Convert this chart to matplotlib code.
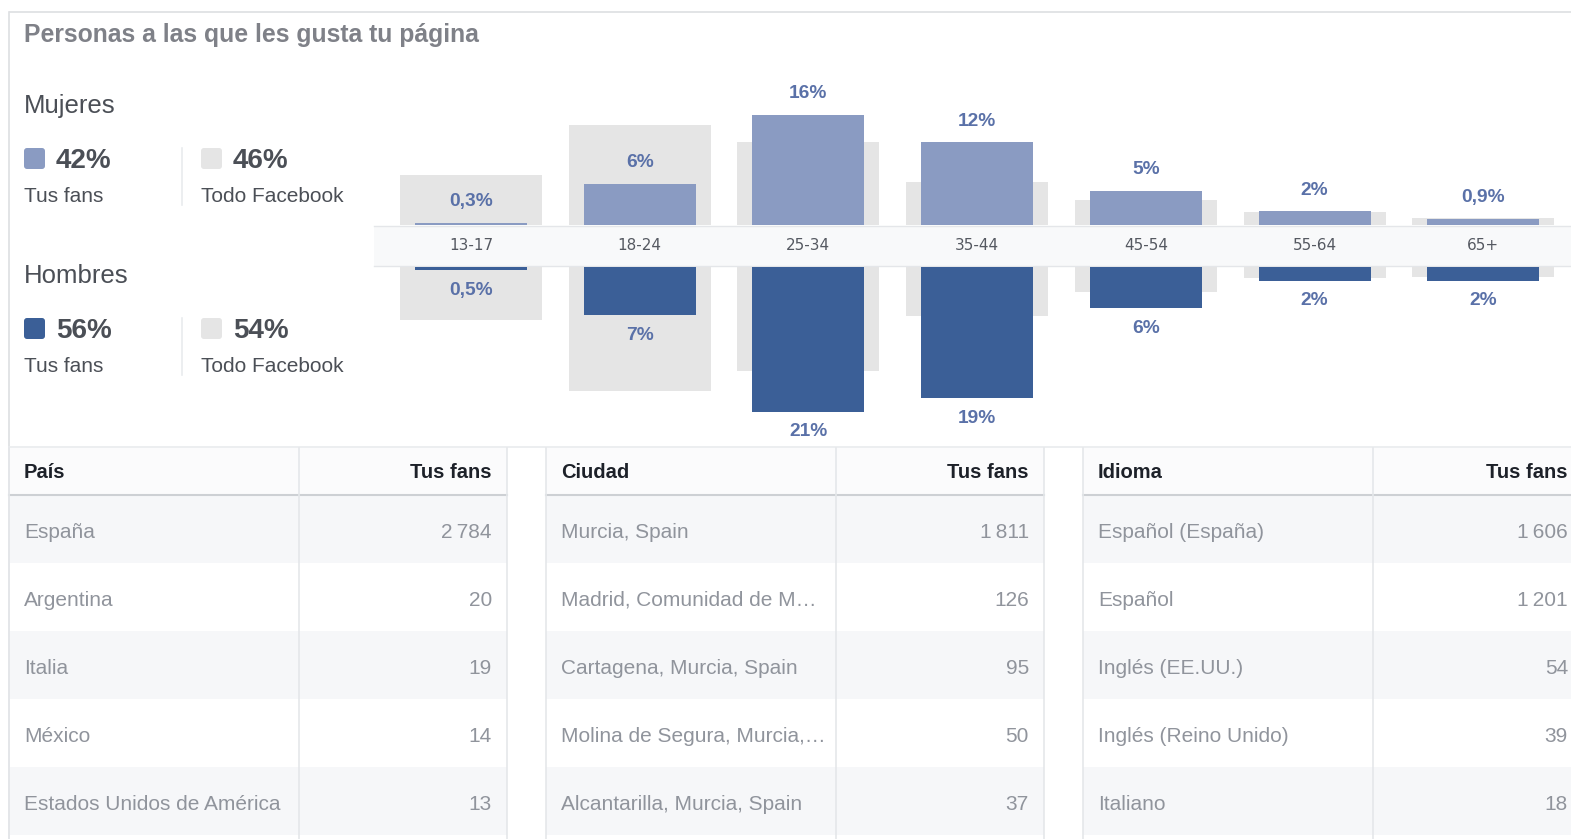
import matplotlib
matplotlib.use("Agg")
import matplotlib.pyplot as plt
from matplotlib.patches import Rectangle, FancyBboxPatch
from matplotlib import transforms

# age groups and shares (%) of page fans vs. all of Facebook
ages = ['13-17', '18-24', '25-34', '35-44', '45-54', '55-64', '65+']
women_fans = [0.3, 6, 16, 12, 5, 2, 0.9]
men_fans = [0.5, 7, 21, 19, 6, 2, 2]
women_fb = [7.2, 14.5, 12, 6.2, 3.6, 1.9, 1.0]
men_fb = [7.7, 18, 15, 7.1, 3.6, 1.6, 1.4]

# totals for the summary block
women_total = [42, 46]
men_total = [56, 54]

# top-5 tables
countries = ['España', 'Argentina', 'Italia', 'México', 'Estados Unidos de América']
country_fans = [2784, 20, 19, 14, 13]
cities = ['Murcia, Spain', 'Madrid, Comunidad de M…', 'Cartagena, Murcia, Spain',
          'Molina de Segura, Murcia,…', 'Alcantarilla, Murcia, Spain']
city_fans = [1811, 126, 95, 50, 37]
languages = ['Español (España)', 'Español', 'Inglés (EE.UU.)', 'Inglés (Reino Unido)', 'Italiano']
lang_fans = [1606, 1201, 54, 39, 18]

W, H = 1571, 839
C_WOMEN = '#8a9bc2'
C_MEN = '#3b5f97'
C_FB = '#e5e5e5'
C_LBL = '#5a71a8'
C_DARK = '#4b4f56'
C_HEAD = '#1d2129'
C_ROW = '#90949c'
C_LINE = '#dddfe2'
SANS = ['Liberation Sans', 'DejaVu Sans']

plt.rcParams['font.family'] = SANS

fig = plt.figure(figsize=(W / 100, H / 100), dpi=100)
fig.patch.set_facecolor('white')

# background axes in pixel units (y grows downwards)
bg = fig.add_axes([0, 0, 1, 1])
bg.set_xlim(0, W)
bg.set_ylim(H, 0)
bg.axis('off')


def px_axes(x0, y0, x1, y1):
    return fig.add_axes([x0 / W, 1 - y1 / H, (x1 - x0) / W, (y1 - y0) / H])


def pct(v):
    return f'{v:g}'.replace('.', ',') + '%'


def num(n):
    return f'{n:,}'.replace(',', '\u2009')


# panel frame
bg.plot([10, W], [12, 12], color=C_LINE, lw=1.2)
bg.plot([9, 9], [12, H], color=C_LINE, lw=1.2)

bg.text(24, 35, 'Personas a las que les gusta tu página', fontsize=17.8,
        fontweight='bold', color='#7f8188', va='center')

# summary blocks
for y0, name, totals, col in [(104, 'Mujeres', women_total, C_WOMEN),
                              (274, 'Hombres', men_total, C_MEN)]:
    bg.text(24, y0 + 2, name, fontsize=18.5, color=C_DARK, va='center')
    for x0, v, c, sub in [(24, totals[0], col, 'Tus fans'),
                          (201, totals[1], C_FB, 'Todo Facebook')]:
        bg.add_patch(FancyBboxPatch((x0, y0 + 44), 21, 21,
                                    boxstyle='round,pad=0,rounding_size=3',
                                    fc=c, ec='none'))
        bg.text(x0 + 32, y0 + 57, f'{v}%', fontsize=20, fontweight='bold',
                color=C_DARK, va='center')
        bg.text(x0, y0 + 92, sub, fontsize=15, color=C_DARK, va='center')
    bg.plot([182, 182], [y0 + 44, y0 + 101], color='#e9ebee', lw=1.2)

# age band
bg.add_patch(Rectangle((374, 226), W - 374, 40, fc='#f8f9fa', ec='none', zorder=3))
bg.plot([374, W], [226, 226], color='#e4e6e9', lw=1, zorder=3)
bg.plot([374, W], [266, 266], color='#e4e6e9', lw=1, zorder=3)

PX_PER_PCT = 6.9
x = list(range(len(ages)))
xlim = (-0.575, 6.52)

ax_w = px_axes(374, 60, W, 225)
ax_w.set_ylim(0, 165 / PX_PER_PCT)
ax_m = px_axes(374, 267, W, 446)
ax_m.set_ylim(179 / PX_PER_PCT, 0)

for ax, fans, fb, col, dy in [(ax_w, women_fans, women_fb, C_WOMEN, 21),
                              (ax_m, men_fans, men_fb, C_MEN, -20)]:
    ax.set_xlim(*xlim)
    ax.patch.set_alpha(0)
    ax.axis('off')
    ax.bar(x, fb, width=0.842, color=C_FB, zorder=1)
    ax.bar(x, fans, width=0.664, color=col, zorder=2)
    for i, v in zip(x, fans):
        ax.annotate(pct(v), (i, v), xytext=(0, dy), textcoords='offset pixels',
                    ha='center', va='center', fontsize=13.8, fontweight='bold',
                    color=C_LBL)

band_tr = transforms.blended_transform_factory(ax_w.transData, bg.transData)
for i, a in zip(x, ages):
    bg.text(i, 246, a, transform=band_tr, ha='center', va='center',
            fontsize=11, family='DejaVu Sans', color='#555961', zorder=4)

# tables
ROW_Y = [495, 563, 631, 699, 767, 835]
bg.plot([9, W], [447, 447], color='#e9ebee', lw=1.2)
tables = [(9, 299, 507, 'País', countries, country_fans),
          (546, 836, 1044, 'Ciudad', cities, city_fans),
          (1083, 1373, 1590, 'Idioma', languages, lang_fans)]
for x0, xm, x1, head, names, vals in tables:
    right = x1 - 15 if x1 < W else 1568
    bg.add_patch(Rectangle((x0, 448), x1 - x0, 47, fc='#fbfbfc', ec='none'))
    for r in range(5):
        if r % 2 == 0:
            bg.add_patch(Rectangle((x0, ROW_Y[r]), x1 - x0, 68, fc='#f6f7f9', ec='none'))
        yc = (ROW_Y[r] + ROW_Y[r + 1]) / 2 + 3
        bg.text(x0 + 15, yc, names[r], fontsize=15, color=C_ROW, va='center')
        bg.text(right, yc, num(vals[r]), fontsize=15, color=C_ROW,
                va='center', ha='right')
    bg.text(x0 + 15, 472, head, fontsize=14.5, fontweight='bold', color=C_HEAD, va='center')
    bg.text(right, 472, 'Tus fans', fontsize=14.5, fontweight='bold', color=C_HEAD,
            va='center', ha='right')
    bg.plot([x0, x1], [495, 495], color='#cdd0d4', lw=1.5)
    for xv in (x0, xm, x1):
        bg.plot([xv, xv], [448, H], color='#e5e7ea', lw=1.2)

fig.savefig('out.png', dpi=100, facecolor='white')
